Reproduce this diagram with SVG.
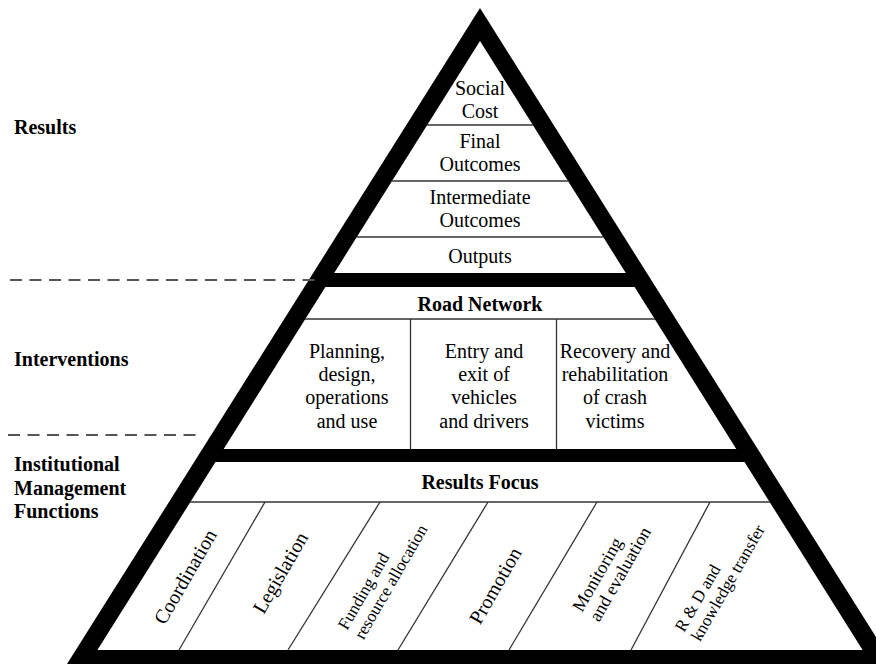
<svg xmlns="http://www.w3.org/2000/svg" width="876" height="664" viewBox="0 0 876 664">
<style>
text{font-family:"Liberation Serif","Times New Roman",serif;fill:#000;font-size:20px}
.c{text-anchor:middle}
.b{font-weight:bold}
.thin{stroke:#333;stroke-width:1.3;fill:none}
.dash{stroke:#555;stroke-width:2;stroke-dasharray:12 7.5;fill:none}
</style>
<rect width="876" height="664" fill="#fff"/>
<g id="frame">
<polygon points="480,8 67,664 893,664" fill="#000"/>
<polygon points="480,41 334.2,273 625.8,273" fill="#fff"/>
<polygon points="325.4,287 634.6,287 736.3,449 223.7,449" fill="#fff"/>
<polygon points="215.5,462 744.5,462 862.6,650 97.4,650" fill="#fff"/>
</g>
<g id="connectors">
<line class="dash" x1="10" y1="280" x2="318" y2="280"/>
<line class="dash" x1="8" y1="435" x2="196" y2="435"/>
<line class="thin" x1="426.5" y1="125" x2="533.5" y2="125"/>
<line class="thin" x1="391.4" y1="181" x2="568.6" y2="181"/>
<line class="thin" x1="356.2" y1="237" x2="603.8" y2="237"/>
<line class="thin" x1="304.7" y1="319" x2="655.3" y2="319"/>
<line class="thin" x1="410.5" y1="319" x2="410.5" y2="449"/>
<line class="thin" x1="556.5" y1="319" x2="556.5" y2="449"/>
<line class="thin" x1="189.8" y1="502" x2="770.2" y2="502"/>
<line class="thin" x1="265" y1="502" x2="179" y2="650"/>
<line class="thin" x1="380" y1="502" x2="288" y2="650"/>
<line class="thin" x1="488" y1="502" x2="398" y2="650"/>
<line class="thin" x1="597" y1="502" x2="509" y2="650"/>
<line class="thin" x1="710" y1="502" x2="631" y2="650"/>
</g>
<g font-family="Liberation Serif, Times New Roman, serif">
<g id="label-results"><text class="b" x="14" y="134">Results</text></g>
<g id="label-interventions"><text class="b" x="14" y="366">Interventions</text></g>
<g id="label-institutional"><text class="b" x="14" y="471">Institutional</text><text class="b" x="14" y="495">Management</text><text class="b" x="14" y="518">Functions</text></g>
<g id="social-cost"><text class="c" x="480" y="95">Social</text><text class="c" x="480" y="118">Cost</text></g>
<g id="final-outcomes"><text class="c" x="480" y="148">Final</text><text class="c" x="480" y="171">Outcomes</text></g>
<g id="intermediate-outcomes"><text class="c" x="480" y="204">Intermediate</text><text class="c" x="480" y="227">Outcomes</text></g>
<g id="outputs"><text class="c" x="480" y="263">Outputs</text></g>
<g id="road-network"><text class="c b" x="480" y="311">Road Network</text></g>
<g id="planning"><text class="c" x="347" y="358">Planning,</text><text class="c" x="347" y="381">design,</text><text class="c" x="347" y="404">operations</text><text class="c" x="347" y="428">and use</text></g>
<g id="entry-exit"><text class="c" x="484" y="358">Entry and</text><text class="c" x="484" y="381">exit of</text><text class="c" x="484" y="404">vehicles</text><text class="c" x="484" y="428">and drivers</text></g>
<g id="recovery"><text class="c" x="615" y="358">Recovery and</text><text class="c" x="615" y="381">rehabilitation</text><text class="c" x="615" y="404">of crash</text><text class="c" x="615" y="428">victims</text></g>
<g id="results-focus"><text class="c b" x="480" y="489">Results Focus</text></g>
<g id="coordination"><text class="c" transform="translate(186,577) rotate(-60)" y="6">Coordination</text></g>
<g id="legislation"><text class="c" transform="translate(281,573) rotate(-60)" y="6">Legislation</text></g>
<g id="funding"><text transform="translate(347,631) rotate(-60)" style="font-size:17px"><tspan x="0" y="0">Funding and</tspan><tspan x="0" y="19">resource allocation</tspan></text></g>
<g id="promotion"><text class="c" transform="translate(496,586) rotate(-60)" y="6">Promotion</text></g>
<g id="monitoring"><text transform="translate(582,613) rotate(-60)" style="font-size:18px"><tspan x="0" y="0">Monitoring</tspan><tspan x="0" y="19.5">and evaluation</tspan></text></g>
<g id="rd"><text transform="translate(684,633) rotate(-60)" style="font-size:17px"><tspan x="0" y="0">R &amp; D and</tspan><tspan x="0" y="18.5">knowledge transfer</tspan></text></g>
</g>
</svg>
